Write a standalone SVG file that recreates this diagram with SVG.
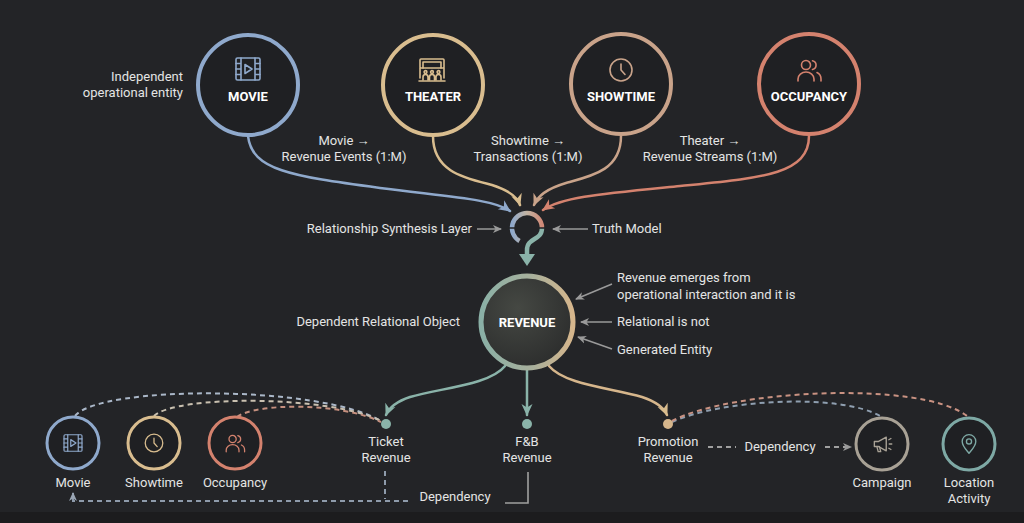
<svg xmlns="http://www.w3.org/2000/svg" xmlns:xlink="http://www.w3.org/1999/xlink" width="1024" height="523" viewBox="0 0 1024 523">
<defs>
<style>
text{font-family:Roboto,"Noto Sans","Liberation Sans",sans-serif;font-size:13px;fill:#e4e4e4}
.lbl{font-weight:700;fill:#ffffff;font-size:13px;text-anchor:middle}
.mid{text-anchor:middle}
.end{text-anchor:end}
.node{fill:#1f2023;stroke-width:4}
.snode{fill:#1f2023;stroke-width:3}
.ico{fill:none;stroke-width:1.6;stroke-linecap:round;stroke-linejoin:round}
.flow{fill:none;stroke-width:2.5;stroke-linecap:round}
.dash{fill:none;stroke-width:2;stroke-dasharray:5 4}
.ann{fill:none;stroke:#9a9a9a;stroke-width:1.5}
</style>
<marker id="aBlue" markerUnits="userSpaceOnUse" markerWidth="14" markerHeight="14" refX="11" refY="7" orient="auto"><path d="M0,1.5 L12,7 L0,12.5 L3.5,7 z" fill="#8fa9cc"/></marker>
<marker id="aTan" markerUnits="userSpaceOnUse" markerWidth="14" markerHeight="14" refX="11" refY="7" orient="auto"><path d="M0,1.5 L12,7 L0,12.5 L3.5,7 z" fill="#d9bd8f"/></marker>
<marker id="aShow" markerUnits="userSpaceOnUse" markerWidth="14" markerHeight="14" refX="11" refY="7" orient="auto"><path d="M0,1.5 L12,7 L0,12.5 L3.5,7 z" fill="#c9a38a"/></marker>
<marker id="aSal" markerUnits="userSpaceOnUse" markerWidth="14" markerHeight="14" refX="11" refY="7" orient="auto"><path d="M0,1.5 L12,7 L0,12.5 L3.5,7 z" fill="#d4826e"/></marker>
<marker id="aTeal" markerUnits="userSpaceOnUse" markerWidth="14" markerHeight="14" refX="11" refY="7" orient="auto"><path d="M0,1.5 L12,7 L0,12.5 L3.5,7 z" fill="#8ab3a9"/></marker>
<marker id="aTealBig" markerUnits="userSpaceOnUse" markerWidth="16" markerHeight="18" refX="4" refY="9" orient="auto"><path d="M0,1 L12,9 L0,17 z" fill="#8ab3a9"/></marker>
<marker id="aGrey" markerUnits="userSpaceOnUse" markerWidth="10" markerHeight="10" refX="8" refY="5" orient="auto"><path d="M0,1 L9,5 L0,9 L2.5,5 z" fill="#9a9a9a"/></marker>
<marker id="aDash" markerUnits="userSpaceOnUse" markerWidth="10" markerHeight="10" refX="8" refY="5" orient="auto"><path d="M0,1 L9,5 L0,9 L2.5,5 z" fill="#9aa6b4"/></marker>
<linearGradient id="ringTop" x1="0" y1="0" x2="1" y2="0">
<stop offset="0" stop-color="#8fa9cc"/><stop offset="0.5" stop-color="#c2b3a2"/><stop offset="1" stop-color="#d08a78"/>
</linearGradient>
<linearGradient id="revStroke" x1="0" y1="0" x2="1" y2="0">
<stop offset="0" stop-color="#8ab0a6"/><stop offset="0.55" stop-color="#a8b09c"/><stop offset="1" stop-color="#d6b68c"/>
</linearGradient>
<radialGradient id="revFill" cx="0.4" cy="0.35" r="0.75">
<stop offset="0" stop-color="#454843"/><stop offset="1" stop-color="#2a2b2b"/>
</radialGradient>
<g id="iFilm" class="ico">
<rect x="-12" y="-11" width="24" height="22" rx="1.5"/>
<path d="M-7,-11 V11 M7,-11 V11 M-12,-5.5 H-7 M-12,0 H-7 M-12,5.5 H-7 M7,-5.5 H12 M7,0 H12 M7,5.5 H12"/>
<path d="M-3,-4.5 L4,0 L-3,4.5 z"/>
</g>
<g id="iTheater" class="ico">
<rect x="-12" y="-11" width="24" height="9" rx="1"/>
<path d="M-9,-2 V-8 H9 V-2"/>
<path d="M-12,-2 V8 M12,-2 V8 M-13,11 H13"/>
<path d="M-9,10 V7 a2.5,2.5 0 0 1 5,0 V10 M-2.5,10 V7 a2.5,2.5 0 0 1 5,0 V10 M4,10 V7 a2.5,2.5 0 0 1 5,0 V10"/>
<circle cx="-6.5" cy="2" r="1.4"/><circle cx="0" cy="2" r="1.4"/><circle cx="6.5" cy="2" r="1.4"/>
</g>
<g id="iClock" class="ico">
<circle cx="0" cy="0" r="11"/>
<path d="M0,-6 V0 L4,4.5"/>
</g>
<g id="iPeople" class="ico">
<circle cx="-3" cy="-5" r="4.5"/>
<path d="M-11,11 V9 a8,7 0 0 1 16,0 V11"/>
<path d="M3.5,-9.3 a4.5,4.5 0 0 1 0,8.8"/>
<path d="M8,2.5 a7,7 0 0 1 4,6.5 V11"/>
</g>
<g id="iMega" class="ico">
<path d="M-9,-3 H-4 L5,-8 V8 L-4,3 H-9 z"/>
<path d="M-6,3 L-4.5,9 H-1.5 L-3,3"/>
<path d="M8,-5 L10.5,-6.5 M8.5,0 H11.5 M8,5 L10.5,6.5"/>
</g>
<g id="iPin" class="ico">
<path d="M0,11 C-4,6 -8,2 -8,-3 A8,8 0 0 1 8,-3 C8,2 4,6 0,11 z"/>
<circle cx="0" cy="-3" r="3"/>
</g>
</defs>

<rect x="0" y="0" width="1024" height="523" fill="#232427"/>
<rect x="0" y="512" width="1024" height="11" fill="#1c1c1e"/>

<g id="connectors">
<path class="flow" stroke="#8fa9cc" d="M248,136 C252,170 290,176 380,188 C450,197 493,199 510,211" marker-end="url(#aBlue)"/>
<path class="flow" stroke="#d9bd8f" d="M433,136 C433,172 465,178 492,185 C508,190 517,196 520,205" marker-end="url(#aTan)"/>
<path class="flow" stroke="#c9a38a" d="M621,136 C621,170 592,176 566,183 C546,189 538,196 534,205" marker-end="url(#aShow)"/>
<path class="flow" stroke="#d4826e" d="M809,136 C809,175 760,178 680,186 C600,194 562,197 543,210" marker-end="url(#aSal)"/>

<path class="ann" d="M477,229 H501" marker-end="url(#aGrey)"/>
<path class="ann" d="M588,229 H553" marker-end="url(#aGrey)"/>
<path class="ann" d="M612,284 L576,299" marker-end="url(#aGrey)"/>
<path class="ann" d="M612,322 H581" marker-end="url(#aGrey)"/>
<path class="ann" d="M612,349 L578,337" marker-end="url(#aGrey)"/>

<path class="flow" stroke="#8ab3a9" d="M505,366 C490,385 440,388 410,397 C395,402 389,408 386,415" marker-end="url(#aTeal)"/>
<path class="flow" stroke="#8ab3a9" d="M527,369 V415" marker-end="url(#aTeal)"/>
<path class="flow" stroke="#d6b68c" d="M549,366 C565,385 612,388 642,397 C657,402 664,408 667,415" marker-end="url(#aTan)"/>

<path class="dash" stroke="#aab7c8" d="M75,416 C100,385 320,385 381,421"/>
<path class="dash" stroke="#c9c0b0" d="M154,416 C175,395 330,395 381,421"/>
<path class="dash" stroke="#c6907f" d="M237,417 C255,403 340,402 381,422"/>
<path class="dash" stroke="#8f9fb0" d="M672,422 C720,400 840,392 882,417"/>
<path class="dash" stroke="#c99282" d="M672,421 C730,390 920,380 967,416"/>

<path class="dash" stroke="#8e9bab" stroke-width="1.6" d="M385,471 V499"/>
<path class="dash" stroke="#8e9bab" stroke-width="1.6" d="M408,501 H73 V493" marker-end="url(#aDash)"/>
<path fill="none" stroke="#a0a0a0" stroke-width="1.6" d="M505,503 H528 V472"/>

<path class="dash" stroke="#a0a0a0" stroke-width="1.6" d="M708,447 H736"/>
<path class="dash" stroke="#a0a0a0" stroke-width="1.6" d="M825,447 H851" marker-end="url(#aGrey)"/>
</g>

<g id="annotations">
<text class="end" x="183" y="81">Independent</text>
<text class="end" x="183" y="97">operational entity</text>
<text class="mid" x="344" y="145">Movie →</text>
<text class="mid" x="344" y="161">Revenue Events (1:M)</text>
<text class="mid" x="528" y="145">Showtime →</text>
<text class="mid" x="528" y="161">Transactions (1:M)</text>
<text class="mid" x="710" y="145">Theater →</text>
<text class="mid" x="710" y="161">Revenue Streams (1:M)</text>
<text class="end" x="472" y="233">Relationship Synthesis Layer</text>
<text x="592" y="233">Truth Model</text>
<text class="end" x="460" y="326">Dependent Relational Object</text>
<text x="617" y="282">Revenue emerges from</text>
<text x="617" y="299">operational interaction and it is</text>
<text x="617" y="326">Relational is not</text>
<text x="617" y="354">Generated Entity</text>
<text class="mid" x="455" y="501">Dependency</text>
<text class="mid" x="780" y="451">Dependency</text>
</g>

<g id="node-movie">
<circle class="node" cx="248" cy="85" r="50" stroke="#8fa9cc"/>
<use href="#iFilm" x="248" y="69" stroke="#8fa9cc"/>
<text class="lbl" x="248" y="101">MOVIE</text>
</g>
<g id="node-theater">
<circle class="node" cx="433" cy="85" r="50" stroke="#d9bd8f"/>
<use href="#iTheater" x="432" y="70" stroke="#d9bd8f"/>
<text class="lbl" x="433" y="101">THEATER</text>
</g>
<g id="node-showtime">
<circle class="node" cx="621" cy="84" r="50" stroke="#c9a38a"/>
<use href="#iClock" x="621" y="70" stroke="#c9a38a"/>
<text class="lbl" x="621" y="101">SHOWTIME</text>
</g>
<g id="node-occupancy">
<circle class="node" cx="809" cy="84" r="50" stroke="#d4826e"/>
<use href="#iPeople" x="809" y="70" stroke="#d4826e"/>
<text class="lbl" x="809" y="101">OCCUPANCY</text>
</g>

<g id="node-synthesis">
<path fill="none" stroke="url(#ringTop)" stroke-width="4.5" d="M519.5,241 A15,15 0 0 1 527,213 A15,15 0 0 1 542,228"/>
<path fill="none" stroke="#8ab3a9" stroke-width="4.5" d="M542,228 C542,241 527,237 527,250 V258" marker-end="url(#aTealBig)"/>
<path stroke="#232427" stroke-width="1.5" d="M508,228 H515 M539,228 H546"/>
</g>

<g id="node-revenue">
<circle cx="527" cy="322" r="46" fill="url(#revFill)" stroke="url(#revStroke)" stroke-width="5"/>
<text class="lbl" x="527" y="327">REVENUE</text>
</g>

<g id="node-ticket">
<circle cx="386" cy="424" r="5" fill="#8ab3a9"/>
<text class="mid" x="386" y="446">Ticket</text>
<text class="mid" x="386" y="462">Revenue</text>
</g>
<g id="node-fnb">
<circle cx="527" cy="424" r="5" fill="#8ab3a9"/>
<text class="mid" x="527" y="446">F&amp;B</text>
<text class="mid" x="527" y="462">Revenue</text>
</g>
<g id="node-promotion">
<circle cx="668" cy="424" r="5" fill="#d6b68c"/>
<text class="mid" x="668" y="446">Promotion</text>
<text class="mid" x="668" y="462">Revenue</text>
</g>

<g id="node-movie-small">
<circle class="snode" cx="73" cy="443" r="26" stroke="#8fa9cc"/>
<use href="#iFilm" transform="translate(73,443) scale(0.75)" stroke="#8fa9cc"/>
<text class="mid" x="73" y="487">Movie</text>
</g>
<g id="node-showtime-small">
<circle class="snode" cx="154" cy="443" r="26" stroke="#d9bd8f"/>
<use href="#iClock" transform="translate(154,443) scale(0.8)" stroke="#d9bd8f"/>
<text class="mid" x="154" y="487">Showtime</text>
</g>
<g id="node-occupancy-small">
<circle class="snode" cx="235" cy="443" r="26" stroke="#d4826e"/>
<use href="#iPeople" transform="translate(235,443) scale(0.8)" stroke="#d4826e"/>
<text class="mid" x="235" y="487">Occupancy</text>
</g>
<g id="node-campaign">
<circle class="snode" cx="882" cy="444" r="26" stroke="#a8a195"/>
<use href="#iMega" transform="translate(882,444) scale(0.85)" stroke="#a8a195"/>
<text class="mid" x="882" y="487">Campaign</text>
</g>
<g id="node-location">
<circle class="snode" cx="969" cy="444" r="26" stroke="#7ea9a5"/>
<use href="#iPin" transform="translate(969,444) scale(0.85)" stroke="#7ea9a5"/>
<text class="mid" x="969" y="487">Location</text>
<text class="mid" x="969" y="503">Activity</text>
</g>
</svg>
